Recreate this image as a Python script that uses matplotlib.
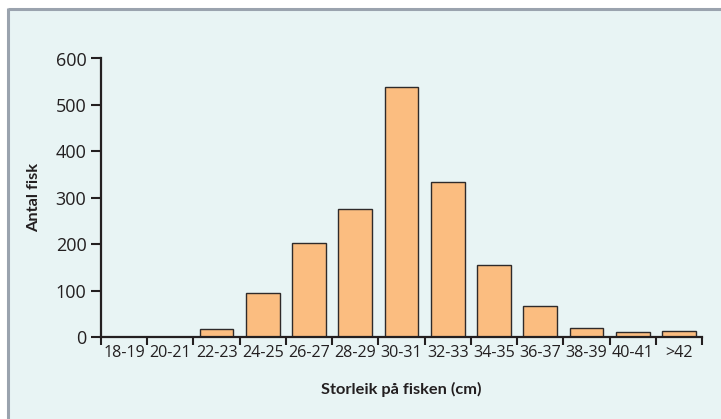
import matplotlib
matplotlib.use('Agg')
import matplotlib.pyplot as plt
from matplotlib.patches import Rectangle
from matplotlib.lines import Line2D

# Data
size_classes = ['18-19', '20-21', '22-23', '24-25', '26-27', '28-29', '30-31',
                '32-33', '34-35', '36-37', '38-39', '40-41', '>42']
fish_counts = [1, 1, 17, 94, 203, 276, 538, 333, 155, 67, 20, 10, 12]
y_ticks = [0, 100, 200, 300, 400, 500, 600]

TEXT = '#231f20'
BAR = '#fbbd80'
PANEL = '#e8f4f4'
BORDER = '#9aa3ae'

plt.rcParams['font.family'] = ['Open Sans', 'DejaVu Sans']
LABEL_FONT = ['Lato', 'DejaVu Sans']

W, H = 721, 419
fig = plt.figure(figsize=(W / 100, H / 100), dpi=100)
fig.patch.set_facecolor('white')

# Light panel with grey border on top and left
fig.patches.append(Rectangle((7.5 / W, -0.1), 1.2, (H - 9.5) / H + 0.1,
                             transform=fig.transFigure, facecolor=PANEL,
                             edgecolor='none', zorder=-10))
fig.lines.append(Line2D([8 / W, 1.0], [(H - 9.5) / H] * 2, transform=fig.transFigure,
                        color=BORDER, linewidth=2.2, solid_capstyle='butt', zorder=-9))
fig.lines.append(Line2D([8 / W] * 2, [0, (H - 8.5) / H], transform=fig.transFigure,
                        color=BORDER, linewidth=2.2, solid_capstyle='butt', zorder=-9))

ax = fig.add_axes([101 / W, (H - 337) / H, (702 - 101) / W, (337 - 58.5) / H])
ax.set_facecolor('none')

x = range(len(size_classes))
ax.bar(x, fish_counts, width=0.73, color=BAR, edgecolor='#2e2a2a', linewidth=1.0, zorder=2)

ax.set_xlim(-0.5, len(size_classes) - 0.5)
ax.set_ylim(0, 600)
ax.set_yticks(y_ticks)

# category labels between boundary ticks
ax.set_xticks([i - 0.5 for i in range(len(size_classes) + 1)])
ax.set_xticklabels([])
ax.set_xticks(list(x), minor=True)
ax.set_xticklabels(size_classes, minor=True)
ax.tick_params(axis='x', which='minor', length=0, pad=6, labelsize=11.6, labelcolor=TEXT)
ax.tick_params(axis='x', which='major', length=5.5, width=1.5, color=TEXT)
ax.tick_params(axis='y', length=7, width=1.5, color=TEXT, pad=3.5,
               labelsize=13, labelcolor=TEXT)

for s in ['top', 'right']:
    ax.spines[s].set_visible(False)
for s in ['left', 'bottom']:
    ax.spines[s].set_linewidth(1.6)
    ax.spines[s].set_color(TEXT)
    ax.spines[s].set_zorder(3)

fig.text(401.5 / W, (H - 389) / H, 'Storleik på fisken (cm)', ha='center', va='center',
         fontsize=11.8, fontweight='bold', color=TEXT, family=LABEL_FONT)
fig.text(34.5 / W, (H - 197.5) / H, 'Antal fisk', ha='center', va='center', rotation=90,
         fontsize=11.8, fontweight='bold', color=TEXT, family=LABEL_FONT)

fig.savefig('out.png', dpi=100)
